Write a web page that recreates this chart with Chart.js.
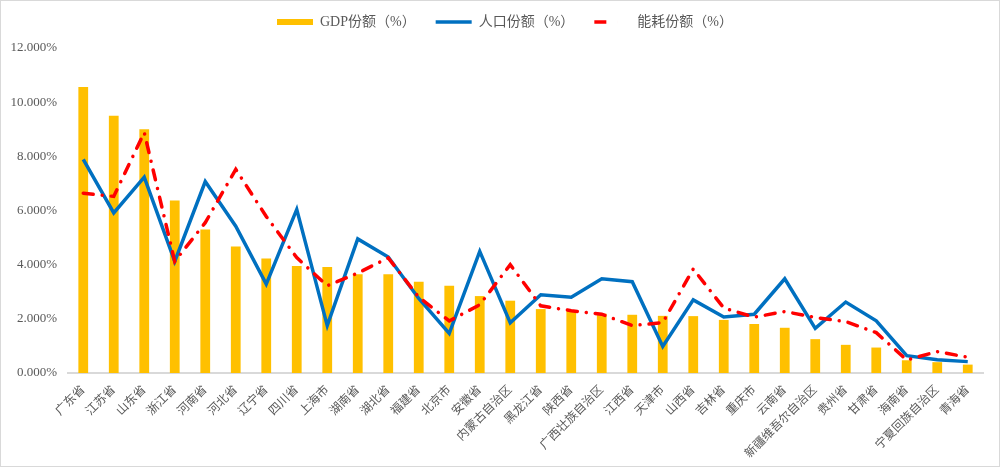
<!DOCTYPE html>
<html>
<head>
<meta charset="utf-8">
<script src="https://cdn.jsdelivr.net/npm/chart.js@4/dist/chart.umd.min.js"></script>
<style>
  html, body { margin: 0; padding: 0; background: #fff; }
  #wrap { width: 998px; height: 465px; border: 1px solid #d9d9d9; position: relative; }
</style>
</head>
<body>
<div id="wrap"><canvas id="shareChart"></canvas></div>
<script>
const provinces = ["广东省", "江苏省", "山东省", "浙江省", "河南省", "河北省", "辽宁省", "四川省", "上海市", "湖南省",
  "湖北省", "福建省", "北京市", "安徽省", "内蒙古自治区", "黑龙江省", "陕西省", "广西壮族自治区", "江西省", "天津市",
  "山西省", "吉林省", "重庆市", "云南省", "新疆维吾尔自治区", "贵州省", "甘肃省", "海南省", "宁夏回族自治区", "青海省"];

const gdpShare = [10.56, 9.50, 9.00, 6.37, 5.30, 4.67, 4.23, 3.95, 3.91, 3.65,
  3.65, 3.37, 3.22, 2.84, 2.67, 2.36, 2.31, 2.19, 2.15, 2.11,
  2.10, 1.96, 1.81, 1.67, 1.25, 1.04, 0.94, 0.47, 0.40, 0.31];

const popShare = [7.89, 5.91, 7.23, 4.12, 7.07, 5.42, 3.28, 6.04, 1.75, 4.95,
  4.28, 2.75, 1.46, 4.49, 1.85, 2.89, 2.80, 3.48, 3.37, 0.98,
  2.70, 2.07, 2.17, 3.48, 1.65, 2.62, 1.93, 0.64, 0.49, 0.42];

const energyShare = [6.64, 6.52, 8.88, 4.12, 5.55, 7.52, 5.78, 4.26, 3.22, 3.69,
  4.25, 2.80, 1.92, 2.52, 4.00, 2.48, 2.30, 2.17, 1.75, 1.86,
  3.84, 2.40, 2.06, 2.27, 2.05, 1.90, 1.49, 0.48, 0.79, 0.58];

const yTicks = [0, 2, 4, 6, 8, 10, 12];

const textColor = "#595959";
const fontFamily = "'Liberation Serif', 'Noto Sans CJK SC'";

const data = {
  labels: provinces,
  datasets: [{
    type: "bar",
    label: "GDP份额（%）",
    data: gdpShare,
    backgroundColor: "#ffc000",
    barPercentage: 0.32,
    categoryPercentage: 1,
    order: 3
  }, {
    type: "line",
    label: "人口份额（%）",
    data: popShare,
    borderColor: "#0070c0",
    backgroundColor: "#0070c0",
    borderWidth: 3.5,
    pointRadius: 0,
    tension: 0,
    order: 2
  }, {
    type: "line",
    label: "能耗份额（%）",
    data: energyShare,
    borderColor: "#ff0000",
    backgroundColor: "#ff0000",
    borderWidth: 3.5,
    borderDash: [10, 9, 0.01, 9],
    borderCapStyle: "round",
    pointRadius: 0,
    tension: 0,
    order: 1
  }]
};

// extra room under the legend, and nudge it so it sits centred on the page
const legendGap = {
  id: "legendGap",
  afterInit(chart) {
    const fit = chart.legend.fit;
    chart.legend.fit = function () {
      fit.call(this);
      this.height += 9;
    };
    const draw = chart.legend.draw;
    chart.legend.draw = function () {
      this.ctx.save();
      this.ctx.translate(13, 0);
      draw.call(this);
      this.ctx.restore();
    };
  }
};

const options = {
  responsive: true,
  maintainAspectRatio: false,
  animation: false,
  layout: { padding: { left: 0, right: 16, top: -6, bottom: 0 } },
  plugins: {
    tooltip: { enabled: false },
    legend: {
      position: "top",
      labels: {
        color: textColor,
        font: { family: fontFamily, size: 14 },
        usePointStyle: true,
        pointStyleWidth: 36,
        boxHeight: 6,
        padding: 20,
        sort: (a, b) => a.datasetIndex - b.datasetIndex,
        generateLabels: (chart) => {
          const items = Chart.defaults.plugins.legend.labels.generateLabels(chart);
          items.forEach((it) => {
            if (it.datasetIndex === 0) {
              it.pointStyle = "rect";
              it.lineWidth = 0;
            } else {
              it.pointStyle = "line";
            }
            if (it.datasetIndex === 2) {
              it.lineDash = [12, 11, 0.01, 30];
            }
          });
          return items;
        }
      }
    }
  },
  scales: {
    x: {
      grid: { display: false },
      border: { display: true, color: "#d9d9d9", width: 2 },
      afterFit: (axis) => {
        axis.paddingLeft = 0;
        axis.paddingRight = 0;
        axis.height = 93;
      },
      ticks: {
        color: textColor,
        font: { family: fontFamily, size: 12 },
        maxRotation: 45,
        minRotation: 45,
        autoSkip: false,
        padding: 2
      }
    },
    y: {
      min: 0,
      max: 12,
      grid: { display: false },
      border: { display: false },
      afterBuildTicks: (axis) => { axis.ticks = yTicks.map((v) => ({ value: v })); },
      afterFit: (axis) => { axis.width = 67; },
      ticks: {
        color: textColor,
        font: { family: fontFamily, size: 13 },
        padding: 3,
        callback: (v) => v.toFixed(3) + "%"
      }
    }
  }
};

const ctx = document.getElementById("shareChart").getContext("2d");
let shareChart = new Chart(ctx, {
  type: "bar",
  data: data,
  options: options,
  plugins: [legendGap]
});
</script>
</body>
</html>
